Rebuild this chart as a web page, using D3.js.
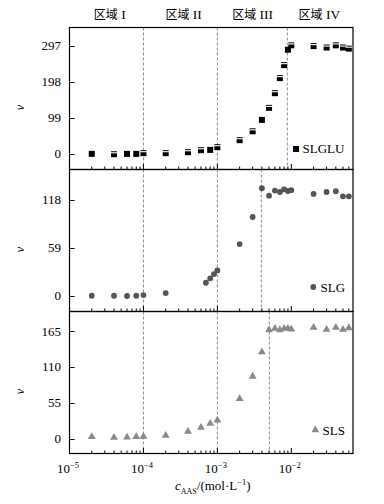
<!DOCTYPE html>
<html><head><meta charset="utf-8">
<script src="https://cdn.jsdelivr.net/npm/d3@7"></script>
<style>body{margin:0;background:#fff}</style>
</head><body>
<svg id="c" width="384" height="504"></svg>
<script>
// ---- data ----
const concA = [2e-5,4e-5,6e-5,8e-5,1e-4,2e-4,4e-4,6e-4,8e-4,1e-3,2e-3,3e-3,4e-3,5e-3,6e-3,7e-3,8e-3,9e-3,1e-2,2e-2,3e-2,4e-2,5e-2,6e-2];
const concB = [2e-5,4e-5,6e-5,8e-5,1e-4,2e-4,7e-4,8e-4,9e-4,1e-3,2e-3,3e-3,4e-3,5e-3,6e-3,7e-3,8e-3,9e-3,1e-2,2e-2,3e-2,4e-2,5e-2,6e-2];
const slgluV = [0,-1,0,0,2,2,4.6,10,11,18.4,37.6,62,93.3,126.3,166.7,208,243.7,286,298,296,292,298,292,289];
const slgluErr = [0,1,0,0,1,1,1,1,0,1,1,1,0,1,1,1,1,0,1,1,1,1,1,1];
const slgV = [0,0,-0.3,0,0.8,3.3,16,21.4,26.7,31.2,63.7,97,132.4,123.3,129.5,127.8,131,129,130,125.4,127.8,128.7,122.5,122.5];
const slsV = [2.6,1.5,2,2.6,3,4.6,11,17,23,28,61,95.5,133,167,169,167,169,169,168,170.6,167.5,170.6,167.5,170];
const seriesNames = ["SLGLU","SLG","SLS"];
const yTicksSLGLU = [0,99,198,297];
const yTicksSLG = [0,59,118];
const yTicksSLS = [0,55,110,165];
const yDomains = [[-42.9,347],[-19.4,155.5],[-23,195.2]];
const boundaries = [[1e-4,1e-3,0.00883],[1e-4,1e-3,0.00393],[1e-4,1e-3,0.00505]];
const xMajorTicks = [1e-5,1e-4,1e-3,1e-2];
const xTickExp = ["−5","−4","−3","−2"];
const regionLabels = ["I","II","III","IV"];
const regionPos = [3.5e-5,3.5e-4,3e-3,2.4e-2];

// ---- layout ----
const svg = d3.select("#c");
const L = 69.5, R = 353;
const tops = [27.5,169.5,311.5];
const H = 142;
const x = d3.scaleLog().domain([1e-5,0.0683]).range([L,R]);
const serif = "'Liberation Serif','Times New Roman',serif";
const colors = ["#000","#555","#8a8a8a"];
const yTicksAll = [yTicksSLGLU,yTicksSLG,yTicksSLS];
const concs = [concA,concB,concA];
const vals = [slgluV,slgV,slsV];

// minor ticks
const minorTicks = [];
for (let e=-5;e<=-2;e++) for (let m=2;m<=9;m++){const v=m*Math.pow(10,e); if(v<=0.0683) minorTicks.push(v);}

for (let p=0;p<3;p++){
  const top = tops[p], bot = top+H;
  const y = d3.scaleLinear().domain(yDomains[p]).range([bot,top]);
  const g = svg.append("g");
  g.selectAll("line.b").data(boundaries[p]).join("line")
    .attr("x1",d=>x(d)).attr("x2",d=>x(d)).attr("y1",top).attr("y2",bot)
    .attr("stroke","#8c8c8c").attr("stroke-width",1).attr("stroke-dasharray","3,2");
  g.append("rect").attr("x",L).attr("y",top).attr("width",R-L).attr("height",H)
    .attr("fill","none").attr("stroke","#000").attr("stroke-width",1.2);
  g.selectAll("line.yt").data(yTicksAll[p]).join("line")
    .attr("x1",L).attr("x2",L+5).attr("y1",d=>Math.round(y(d))+0.5).attr("y2",d=>Math.round(y(d))+0.5)
    .attr("stroke","#000");
  g.selectAll("text.yt").data(yTicksAll[p]).join("text")
    .attr("x",61).attr("y",d=>y(d)).attr("dy","0.35em").attr("text-anchor","end")
    .attr("font-family",serif).attr("font-size",13).text(d=>d);
  g.selectAll("line.xM").data(xMajorTicks).join("line")
    .attr("x1",d=>x(d)).attr("x2",d=>x(d)).attr("y1",bot).attr("y2",bot-5.5).attr("stroke","#000");
  g.selectAll("line.xm").data(minorTicks).join("line")
    .attr("x1",d=>x(d)).attr("x2",d=>x(d)).attr("y1",bot).attr("y2",bot-3).attr("stroke","#000");
  g.append("text").attr("transform",`translate(24,${top+80}) rotate(-90)`)
    .attr("text-anchor","middle").attr("font-family",serif).attr("font-style","italic")
    .attr("font-size",13).text("v");
  const data = concs[p].map((c,i)=>({c,v:vals[p][i],e:p===0?slgluErr[i]:0}));
  const col = colors[p];
  if (p===0){
    g.selectAll("rect.pt").data(data).join("rect")
      .attr("x",d=>x(d.c)-3).attr("y",d=>y(d.v)-3).attr("width",6).attr("height",6).attr("fill",col);
    g.selectAll("rect.err").data(data.filter(d=>d.e)).join("rect")
      .attr("x",d=>x(d.c)-3.5).attr("y",d=>y(d.v)-2).attr("width",7).attr("height",1.1).attr("fill","#fff");
    g.append("rect").attr("x",293).attr("y",146).attr("width",6).attr("height",6).attr("fill",col);
  } else if (p===1){
    g.selectAll("circle.pt").data(data).join("circle")
      .attr("cx",d=>x(d.c)).attr("cy",d=>y(d.v)).attr("r",2.9).attr("fill",col);
    g.append("circle").attr("cx",313.3).attr("cy",287).attr("r",2.9).attr("fill",col);
  } else {
    const tri = d3.symbol().type(d3.symbolTriangle).size(27);
    g.selectAll("path.pt").data(data).join("path")
      .attr("transform",d=>`translate(${x(d.c)},${y(d.v)})`).attr("d",tri).attr("fill",col);
    g.append("path").attr("transform","translate(315.3,430)").attr("d",tri).attr("fill",col);
  }
  const legX = [302.5,320.5,322.5][p], legY = [153,291.5,434.5][p];
  g.append("text").attr("x",legX).attr("y",legY).attr("font-family",serif).attr("font-size",13).text(seriesNames[p]);
}

// region labels
const rl = svg.append("g");
regionLabels.forEach((r,i)=>{
  const t = rl.append("text").attr("x",x(regionPos[i])).attr("y",19).attr("text-anchor","middle");
  t.append("tspan").attr("font-family","'Noto Sans CJK SC',sans-serif").attr("font-size",12).text("区域");
  t.append("tspan").attr("font-family",serif).attr("font-size",13.5).text(" "+r);
});

// x tick labels
xMajorTicks.forEach((v,i)=>{
  const t = svg.append("text").attr("x",x(v)-1.5).attr("y",473).attr("text-anchor","middle").attr("font-family",serif);
  t.append("tspan").attr("font-size",13).text("10");
  t.append("tspan").attr("font-size",8.5).attr("dy",-5).text(xTickExp[i]);
});

// x axis title
const xt = svg.append("text").attr("x",175).attr("y",490).attr("font-family",serif);
xt.append("tspan").attr("font-size",13).attr("font-style","italic").text("c");
xt.append("tspan").attr("font-size",8).attr("dy",4).text("AAS");
xt.append("tspan").attr("font-size",13).attr("dy",-4).text("/(mol·L");
xt.append("tspan").attr("font-size",8.5).attr("dy",-5).text("−1");
xt.append("tspan").attr("font-size",13).attr("dy",5).text(")");
</script>
</body></html>
